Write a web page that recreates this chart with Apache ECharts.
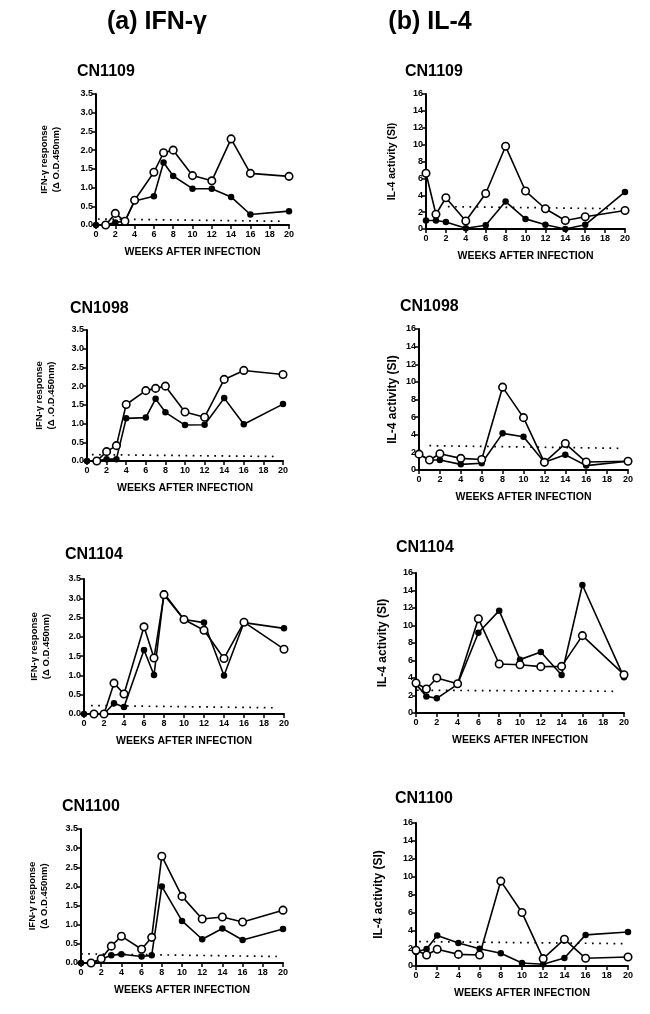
<!DOCTYPE html>
<html>
<head>
<meta charset="utf-8">
<script src="https://cdn.jsdelivr.net/npm/echarts@6/dist/echarts.min.js"></script>
<style>
  html, body { margin: 0; padding: 0; background: #fff; }
  #chart { width: 650px; height: 1014px; }
</style>
</head>
<body>
<div id="chart"></div>
<script>
// ---------------- DATA ----------------
const IFN_WEEKS = [0, 1, 2, 3, 4, 6, 7, 8, 10, 12, 14, 16, 20];
const IL4_WEEKS = [0, 1, 2, 4, 6, 8, 10, 12, 14, 16, 20];
const X_TICKS = [0, 2, 4, 6, 8, 10, 12, 14, 16, 18, 20];
const IFN_TICKS = [0, 0.5, 1, 1.5, 2, 2.5, 3, 3.5];
const IL4_TICKS = [0, 2, 4, 6, 8, 10, 12, 14, 16];

const HEADINGS = ['(a) IFN-γ', '(b) IL-4'];
const ANIMALS = ['CN1109', 'CN1098', 'CN1104', 'CN1100'];
const X_NAME = 'WEEKS AFTER INFECTION';
const IFN_YNAME = ['IFN-γ response\n(Δ O.D.450nm)', 'IFN-γ response\n(Δ .O.D.450nm)', 'IFN-γ response\n(Δ O.D.450nm)', 'IFN-γ response\n(Δ O.D.450nm)'];
const IL4_YNAME = 'IL-4 activity (SI)';

// IFN-gamma (open / filled circles)
const cn1109_ifn_open   = [null, 0, 0.31, 0.10, 0.66, 1.41, 1.93, 2.00, 1.32, 1.18, 2.30, 1.38, 1.30];
const cn1109_ifn_filled = [0, 0, 0.07, 0.10, 0.64, 0.77, 1.67, 1.31, 0.97, 0.97, 0.75, 0.28, 0.37];
const cn1098_ifn_open   = [null, 0, 0.25, 0.41, 1.51, 1.88, 1.94, 2.00, 1.31, 1.17, 2.18, 2.42, 2.31];
const cn1098_ifn_filled = [0, 0, 0.05, 0.05, 1.14, 1.16, 1.66, 1.30, 0.96, 0.97, 1.68, 0.98, 1.52];
const cn1104_ifn_open   = [null, 0, 0, 0.80, 0.52, 2.26, 1.45, 3.09, 2.45, 2.17, 1.44, 2.38, 1.68];
const cn1104_ifn_filled = [0, 0, 0, 0.28, 0.18, 1.66, 1.01, 3.13, 2.45, 2.37, 1.00, 2.37, 2.22];
const cn1100_ifn_open   = [null, 0, 0.11, 0.44, 0.70, 0.36, 0.67, 2.79, 1.74, 1.15, 1.20, 1.07, 1.38];
const cn1100_ifn_filled = [0, 0, 0.10, 0.20, 0.23, 0.17, 0.20, 2.00, 1.10, 0.62, 0.90, 0.60, 0.89];

// IL-4 (open / filled circles)
const cn1109_il4_open   = [6.6, 1.75, 3.7, 0.95, 4.2, 9.8, 4.5, 2.4, 1.0, 1.45, 2.2];
const cn1109_il4_filled = [1.0, 1.0, 0.83, 0.08, 0.45, 3.25, 1.2, 0.5, 0.0, 0.5, 4.4];
const cn1098_il4_open   = [1.8, 1.13, 1.85, 1.32, 1.2, 9.4, 5.94, 0.87, 3.0, 0.9, 1.0];
const cn1098_il4_filled = [1.8, 1.13, 1.13, 0.64, 0.76, 4.16, 3.78, 0.87, 1.74, 0.5, 1.0];
const cn1104_il4_open   = [3.43, 2.74, 4.0, 3.35, 10.78, 5.6, 5.52, 5.3, 5.33, 8.84, 4.38];
const cn1104_il4_filled = [3.3, 1.9, 1.68, 3.28, 9.18, 11.7, 6.1, 6.97, 4.34, 14.63, 4.08];
const cn1100_il4_open   = [1.76, 1.23, 1.87, 1.3, 1.23, 9.5, 5.98, 0.82, 3.0, 0.86, 1.0];
const cn1100_il4_filled = [1.57, 1.9, 3.4, 2.58, 1.94, 1.42, 0.34, 0.19, 0.9, 3.48, 3.81];

// dotted cut-off lines: [week, value] at start and end
const cn1109_ifn_cut = [[0.2, 0.16], [19.3, 0.10]];
const cn1098_ifn_cut = [[0.5, 0.17], [19.3, 0.12]];
const cn1104_ifn_cut = [[0.7, 0.22], [19.4, 0.16]];
const cn1100_ifn_cut = [[0.0, 0.24], [19.4, 0.17]];
const cn1109_il4_cut = [[2.2, 2.65], [19.5, 2.40]];
const cn1098_il4_cut = [[1.0, 2.76], [19.3, 2.46]];
const cn1104_il4_cut = [[0.1, 2.60], [19.4, 2.48]];
const cn1100_il4_cut = [[0.3, 2.73], [19.7, 2.50]];

// ---------------- LAYOUT ----------------
const FONT = '"Liberation Sans", Arial, Helvetica, sans-serif';
const panels = [
  { kind: 'ifn', title: ANIMALS[0], yname: IFN_YNAME[0], open: cn1109_ifn_open, filled: cn1109_ifn_filled, cut: cn1109_ifn_cut,
    grid: { left: 96, top: 94, width: 193, height: 131 }, tx: 77, ty: 72, nameGap: 33, ynSize: 9.5 },
  { kind: 'il4', title: ANIMALS[0], yname: IL4_YNAME, open: cn1109_il4_open, filled: cn1109_il4_filled, cut: cn1109_il4_cut,
    grid: { left: 426, top: 94, width: 199, height: 135 }, tx: 405, ty: 72, nameGap: 27, ynSize: 10.5 },
  { kind: 'ifn', title: ANIMALS[1], yname: IFN_YNAME[1], open: cn1098_ifn_open, filled: cn1098_ifn_filled, cut: cn1098_ifn_cut,
    grid: { left: 87, top: 330, width: 196, height: 131 }, tx: 70, ty: 309, nameGap: 29, ynSize: 9.5 },
  { kind: 'il4', title: ANIMALS[1], yname: IL4_YNAME, open: cn1098_il4_open, filled: cn1098_il4_filled, cut: cn1098_il4_cut,
    grid: { left: 419, top: 329, width: 209, height: 141 }, tx: 400, ty: 307, nameGap: 19, ynSize: 12 },
  { kind: 'ifn', title: ANIMALS[2], yname: IFN_YNAME[2], open: cn1104_ifn_open, filled: cn1104_ifn_filled, cut: cn1104_ifn_cut,
    grid: { left: 84, top: 579, width: 200, height: 135 }, tx: 65, ty: 555, nameGap: 31, ynSize: 9.5 },
  { kind: 'il4', title: ANIMALS[2], yname: IL4_YNAME, open: cn1104_il4_open, filled: cn1104_il4_filled, cut: cn1104_il4_cut,
    grid: { left: 416, top: 573, width: 208, height: 140 }, tx: 396, ty: 548, nameGap: 26, ynSize: 12 },
  { kind: 'ifn', title: ANIMALS[3], yname: IFN_YNAME[3], open: cn1100_ifn_open, filled: cn1100_ifn_filled, cut: cn1100_ifn_cut,
    grid: { left: 81, top: 829, width: 202, height: 134 }, tx: 62, ty: 807, nameGap: 30, ynSize: 9.5 },
  { kind: 'il4', title: ANIMALS[3], yname: IL4_YNAME, open: cn1100_il4_open, filled: cn1100_il4_filled, cut: cn1100_il4_cut,
    grid: { left: 416, top: 823, width: 212, height: 143 }, tx: 395, ty: 799, nameGap: 30, ynSize: 12 }
];

const grids = [], xAxes = [], yAxes = [], series = [], graphics = [];

graphics.push({ type: 'text', x: 157, y: 22, style: { text: HEADINGS[0], font: 'bold 25px ' + FONT, fill: '#000', align: 'center', verticalAlign: 'middle', textAlign: 'center', textVerticalAlign: 'middle' } });
graphics.push({ type: 'text', x: 430, y: 22, style: { text: HEADINGS[1], font: 'bold 25px ' + FONT, fill: '#000', align: 'center', verticalAlign: 'middle', textAlign: 'center', textVerticalAlign: 'middle' } });

panels.forEach((p, i) => {
  const isIfn = p.kind === 'ifn';
  const weeks = isIfn ? IFN_WEEKS : IL4_WEEKS;
  const yt = isIfn ? IFN_TICKS : IL4_TICKS;
  grids.push(Object.assign({ outerBoundsMode: 'none', containLabel: false }, p.grid));
  const axisLine = { show: true, lineStyle: { color: '#000', width: 2 } };
  const axisTick = { show: true, inside: false, length: 4, lineStyle: { color: '#000', width: 1.5 } };
  xAxes.push({
    gridIndex: i, type: 'value', min: X_TICKS[0], max: X_TICKS[X_TICKS.length - 1], interval: X_TICKS[1] - X_TICKS[0],
    axisLine, axisTick, splitLine: { show: false },
    axisLabel: { color: '#000', fontSize: 9, fontWeight: 'bold', fontFamily: FONT, margin: 5 },
    name: X_NAME, nameLocation: 'middle', nameGap: 22,
    nameTextStyle: { color: '#000', fontSize: 10.5, fontWeight: 'bold', fontFamily: FONT }
  });
  yAxes.push({
    gridIndex: i, type: 'value', min: yt[0], max: yt[yt.length - 1], interval: yt[1] - yt[0],
    axisLine, axisTick, splitLine: { show: false },
    axisLabel: { color: '#000', fontSize: 9, fontWeight: 'bold', fontFamily: FONT, margin: 3,
      formatter: v => isIfn ? v.toFixed(1) : String(v) },
    name: p.yname, nameLocation: 'middle', nameGap: p.nameGap, nameRotate: 90,
    nameTextStyle: { color: '#000', fontSize: p.ynSize, fontWeight: 'bold', fontFamily: FONT, lineHeight: p.ynSize + 3 }
  });
  series.push({
    type: 'line', xAxisIndex: i, yAxisIndex: i, data: p.cut, symbol: 'none', silent: true,
    lineStyle: { color: '#000', width: 1.7, type: [1.7, 5.5] }, z: 1
  });
  series.push({
    type: 'line', xAxisIndex: i, yAxisIndex: i, data: weeks.map((w, k) => [w, p.filled[k]]).filter(d => d[1] !== null),
    symbol: 'circle', symbolSize: 6.5, lineStyle: { color: '#000', width: 1.6 },
    itemStyle: { color: '#000', borderColor: '#000', borderWidth: 0 }, z: 2
  });
  series.push({
    type: 'line', xAxisIndex: i, yAxisIndex: i, data: weeks.map((w, k) => [w, p.open[k]]).filter(d => d[1] !== null),
    symbol: 'circle', symbolSize: 7.5, lineStyle: { color: '#000', width: 1.6 },
    itemStyle: { color: '#fff', borderColor: '#000', borderWidth: 1.6 }, z: 3
  });
  graphics.push({ type: 'text', x: p.tx, y: p.ty, style: { text: p.title, font: 'bold 16px ' + FONT, fill: '#000', align: 'left', verticalAlign: 'middle', textAlign: 'left', textVerticalAlign: 'middle' } });
});

const chart = echarts.init(document.getElementById('chart'), null, { renderer: 'canvas' });
chart.setOption({
  backgroundColor: '#fff',
  animation: false,
  grid: grids, xAxis: xAxes, yAxis: yAxes, series: series, graphic: graphics
});
</script>
</body>
</html>
